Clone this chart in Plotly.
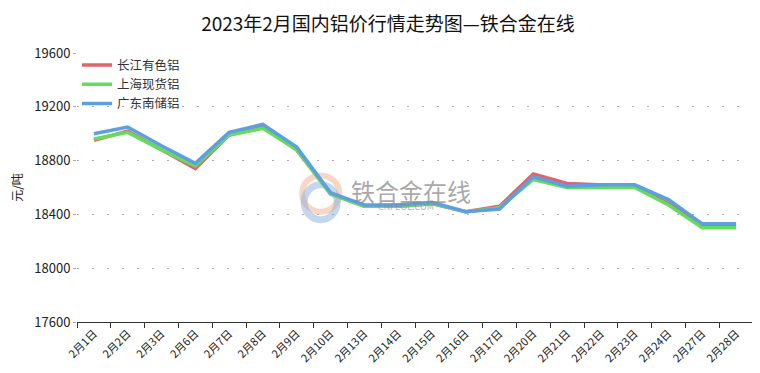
import plotly.graph_objects as go

dates = ["2月1日", "2月2日", "2月3日", "2月6日", "2月7日", "2月8日", "2月9日", "2月10日",
         "2月13日", "2月14日", "2月15日", "2月16日", "2月17日", "2月20日", "2月21日",
         "2月22日", "2月23日", "2月24日", "2月27日", "2月28日"]

changjiang = [18950, 19020, 18880, 18740, 18990, 19050, 18880, 18560, 18460, 18460,
              18480, 18420, 18460, 18700, 18630, 18620, 18610, 18480, 18320, 18320]
shanghai = [18960, 19010, 18880, 18760, 18990, 19040, 18880, 18550, 18460, 18460,
            18480, 18420, 18450, 18660, 18600, 18600, 18600, 18470, 18300, 18300]
guangdong = [19000, 19050, 18910, 18780, 19010, 19070, 18900, 18560, 18470, 18470,
             18490, 18420, 18440, 18680, 18610, 18620, 18620, 18510, 18330, 18330]

series = [("长江有色铝", changjiang, "#e2636a"),
          ("上海现货铝", shanghai, "#62dd5c"),
          ("广东南储铝", guangdong, "#5d9fe0")]

font = "Noto Sans CJK SC, sans-serif"
fig = go.Figure()
for name, vals, color in series:
    fig.add_trace(go.Scatter(x=dates, y=vals, name=name, mode="lines",
                             line=dict(color=color, width=3.5)))

fig.update_layout(
    width=760, height=373,
    margin=dict(l=69, r=15, t=45, b=59, autoexpand=False),
    paper_bgcolor="white", plot_bgcolor="white",
    font=dict(family=font, color="#222", size=12),
    title=dict(text="2023年2月国内铝价行情走势图—铁合金在线", x=0.5, xanchor="center",
               y=0.957, yanchor="middle", yref="container",
               font=dict(size=19, color="#111", family=font)),
    legend=dict(x=0.0, y=1.01, xanchor="left", yanchor="top", bgcolor="rgba(0,0,0,0)",
                font=dict(size=12.5, color="#333"), itemwidth=30, tracegroupgap=0),
    showlegend=True,
)
fig.update_xaxes(type="category", range=[-0.5, len(dates) - 0.5],
                 showline=True, linecolor="#333", linewidth=1,
                 ticks="outside", tickson="boundaries", ticklen=5, tickcolor="#333",
                 tickangle=-45, tickfont=dict(size=11, color="#222"), showgrid=False,
                 automargin=False)
fig.update_yaxes(range=[17600, 19600], dtick=400, tickformat="d", showline=False, showgrid=True,
                 gridcolor="#aaaaaa", griddash="2px,13px", gridwidth=1,
                 ticks="outside", ticklen=3, tickcolor="#aaa",
                 tickfont=dict(size=13, color="#222"), zeroline=False, automargin=False,
                 title=dict(text="元/吨", font=dict(size=12, color="#222"), standoff=20))

# watermark
fig.add_shape(type="circle", xref="paper", yref="paper", x0=0.333, x1=0.388, y0=0.41, y1=0.545,
              line=dict(color="rgba(240,180,150,0.55)", width=6), layer="below")
fig.add_shape(type="circle", xref="paper", yref="paper", x0=0.336, x1=0.385, y0=0.38, y1=0.51,
              line=dict(color="rgba(140,175,220,0.5)", width=7), layer="below")
fig.add_annotation(text="铁合金在线", xref="paper", yref="paper", x=0.402, y=0.49,
                   xanchor="left", yanchor="middle", showarrow=False,
                   font=dict(size=24, color="rgba(140,140,140,0.75)", family=font))
fig.add_annotation(text="CNFEOL.COM", xref="paper", yref="paper", x=0.487, y=0.428,
                   xanchor="center", yanchor="middle", showarrow=False,
                   font=dict(size=9, color="rgba(140,140,140,0.7)", family=font))

fig.write_html("out.html")
